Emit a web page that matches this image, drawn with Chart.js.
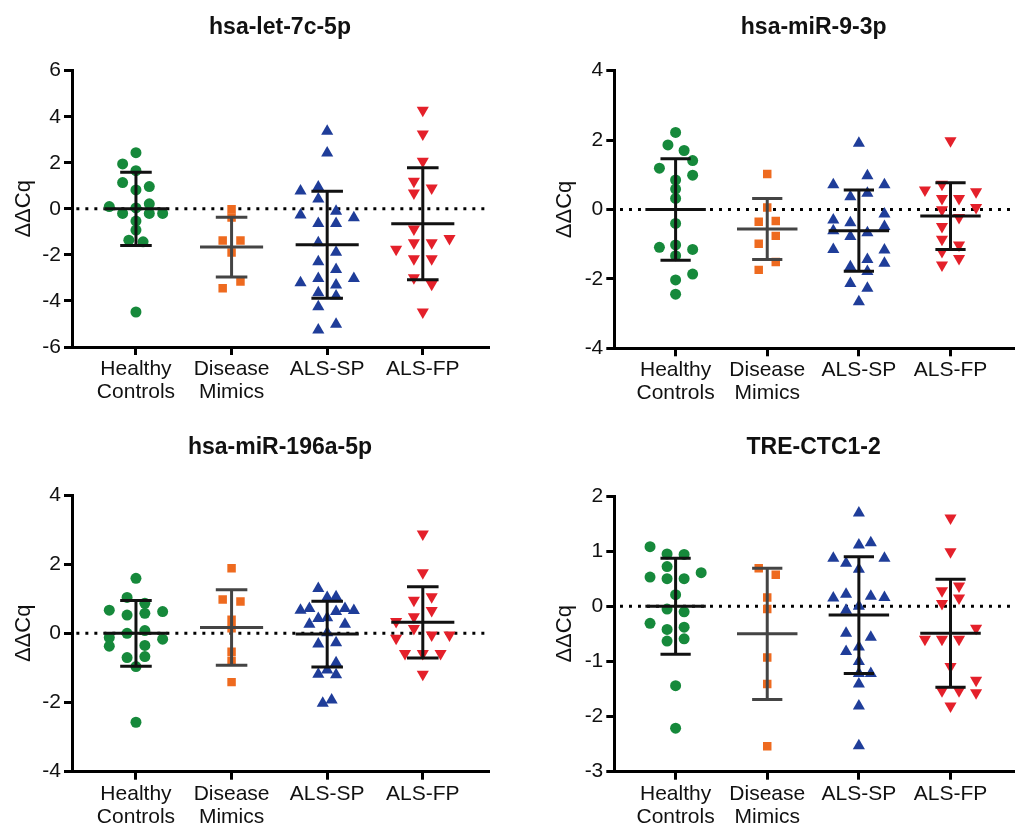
<!DOCTYPE html>
<html>
<head>
<meta charset="utf-8">
<script src="https://cdn.jsdelivr.net/npm/chart.js@4.4.1/dist/chart.umd.min.js"></script>
<style>
  body { margin: 0; background: #fff; width: 1020px; height: 827px; position: relative; overflow: hidden; }
  canvas { position: absolute; }
</style>
</head>
<body>
<canvas id="c1" width="510" height="420" style="left:0;top:0"></canvas>
<canvas id="c2" width="510" height="420" style="left:510px;top:0"></canvas>
<canvas id="c3" width="510" height="407" style="left:0;top:420px"></canvas>
<canvas id="c4" width="510" height="407" style="left:510px;top:420px"></canvas>
<script>
const groups = [['Healthy', 'Controls'], ['Disease', 'Mimics'], 'ALS-SP', 'ALS-FP'];

// hsa-let-7c-5p
const let7Healthy = [2.44, 1.95, 1.66, 1.14, 0.97, 0.82, 0.10, 0.22, 0.04, -0.20, -0.20, -0.20, -0.53, -0.92, -1.36, -1.43, -4.48];
const let7HealthySlot = [0, -1.5, 0, -1.5, 1.5, 0, -3, 1.5, 0, -1.5, 1.5, 3, 0, 0, -0.8, 0.8, 0];
const let7Mimics = [-0.02, -0.38, -1.37, -1.37, -1.90, -3.16, -3.45];
const let7MimicsSlot = [0, 0, -1, 1, 0, 1, -1];
const let7Sp = [3.37, 2.43, 0.77, 0.95, 0.43, -0.10, -0.27, -0.39, -0.64, -0.64, -1.47, -1.88, -2.30, -2.63, -3.21, -3.03, -3.02, -3.64, -3.31, -3.79, -4.25, -5.01, -5.26];
const let7SpSlot = [0, 0, -3, -1, -1, 1, -3, 3, -1, 1, -1, 1, -1, 1, -3, -1, 3, -1, 1, 1, -1, 1, -1];
const let7Fp = [4.28, 3.25, 2.07, 1.20, 0.91, 0.69, -0.87, -1.29, -1.76, -1.47, -1.47, -2.17, -2.17, -2.99, -3.28, -4.48];
const let7FpSlot = [0, 0, 0, -1, 1, -1, -1, 3, -3, -1, 1, -1, 1, -1, 1, 0];
const let7Means = [0.00, -1.66, -1.56, -0.65];
const let7Sds = [1.59, 1.30, 2.32, 2.43];

// hsa-miR-9-3p
const mir9Healthy = [2.22, 1.86, 1.70, 1.41, 1.19, 0.99, 0.85, 0.59, 0.32, -0.40, -1.09, -1.02, -1.15, -1.33, -1.86, -2.03, -2.44];
const mir9HealthySlot = [0, -0.9, 1, 2, -1.9, 2, 0, 0, 0, 0, -1.9, 0, 2, 0, 2, 0, 0];
const mir9Mimics = [1.02, 0.06, -0.35, -0.33, -0.76, -0.99, -1.51, -1.74];
const mir9MimicsSlot = [0, 0, -1, 1, 1, -1, 1, -1];
const mir9Sp = [1.91, 0.97, 0.71, 0.71, 0.37, 0.47, -0.30, -0.13, -0.38, -0.61, -0.49, -0.78, -0.67, -1.15, -1.17, -1.44, -1.55, -1.65, -1.79, -2.13, -2.27, -2.66];
const mir9SpSlot = [0, 1, -3, 3, -1, 1, -3, 3, -1, -3, 3, -1, 1, -3, 3, 1, 3, -1, 1, -1, 1, 0];
const mir9Fp = [1.98, 0.73, 0.56, 0.51, 0.32, 0.32, 0.06, -0.01, -0.23, -0.49, -0.86, -1.02, -1.21, -1.41, -1.60];
const mir9FpSlot = [0, -1, -3, 3, -1, 1, 3, -1, 1, -1, -1, 1, -1, 1, -1];
const mir9Means = [0.00, -0.56, -0.61, -0.19];
const mir9Sds = [1.46, 0.88, 1.17, 0.96];

// hsa-miR-196a-5p
const mir196Healthy = [1.59, 1.04, 0.87, 0.67, 0.63, 0.53, 0.58, 0.00, 0.08, -0.12, -0.17, -0.37, -0.35, -0.70, -0.67, -0.96, -2.57];
const mir196HealthySlot = [0, -1, 1, -3, 3, -1, 1, -1, 1, -3, 3, -3, 1, -1, 1, 0, 0];
const mir196Mimics = [1.88, 0.98, 0.92, 0.39, 0.15, -0.53, -0.79, -1.41];
const mir196MimicsSlot = [0, -1, 1, 0, 0, 0, 0, 0];
const mir196Sp = [1.30, 1.04, 1.06, 0.67, 0.72, 0.72, 0.66, 0.43, 0.63, 0.26, 0.26, 0.45, 0.02, -0.31, -0.27, -0.85, -1.18, -1.20, -1.06, -2.02, -1.93];
const mir196SpSlot = [-1, 0, 1, -3, -2, 2, 3, -1, 1, -2, 2, 0, 0, -1, 1, 1, -1, 1, 0, -0.5, 0.5];
const mir196Fp = [2.87, 1.75, 0.96, 1.06, 0.66, 0.48, 0.34, 0.14, -0.14, -0.05, -0.05, -0.58, -0.58, -0.58, -1.18];
const mir196FpSlot = [0, 0, -1, 1, 1, -1, -3, -1, -3, 1, 3, -2, 0, 2, 0];
const mir196Means = [0.00, 0.17, -0.02, 0.32];
const mir196Sds = [0.95, 1.09, 0.95, 1.03];

// TRE-CTC1-2
const treHealthy = [1.08, 0.95, 0.94, 0.72, 0.53, 0.50, 0.50, 0.61, 0.21, -0.05, -0.10, -0.31, -0.42, -0.38, -0.63, -0.59, -1.44, -2.21];
const treHealthySlot = [-3, -1, 1, -1, -3, -1, 1, 3, 0, -1, 1, -3, -1, 1, -1, 1, 0, 0];
const treMimics = [0.69, 0.57, 0.16, -0.05, -0.93, -1.41, -2.54];
const treMimicsSlot = [-1, 1, 0, 0, 0, 0, 0];
const treSp = [1.69, 1.11, 1.15, 0.87, 0.87, 0.78, 0.67, 0.15, 0.22, 0.18, 0.16, 0.00, -0.07, -0.49, -0.56, -0.82, -0.74, -1.00, -1.22, -1.22, -1.41, -1.81, -2.53];
const treSpSlot = [0, 0, 1.4, -3, 3, -1.5, 0, -3, -1.5, 1.4, 3, 0, -1.5, -1.5, 1.4, -1.5, 0, 0, 0, 1.4, 0, 0, 0];
const treFp = [1.60, 0.99, 0.28, 0.37, 0.15, 0.05, -0.40, -0.60, -0.60, -0.60, -1.09, -1.34, -1.53, -1.53, -1.57, -1.81];
const treFpSlot = [0, 0, -1, 1, 1, -1, 3, -3, -1, 1, 0, 3, -1, 1, 3, 0];
const treMeans = [0.00, -0.50, -0.16, -0.49];
const treSds = [0.87, 1.19, 1.06, 0.98];

const SLOT = 0.093;
const colors = ['#16893b', '#ee6a1f', '#1f3d99', '#e4202a'];
const barColors = ['#111', '#444', '#111', '#111'];
const shapes = [['circle', 5.5, 0], ['rect', 6, 0], ['triangle', 7, 0], ['triangle', 7, 180]];

Chart.defaults.font.family = "'Liberation Sans', Arial, sans-serif";

function errorBar(i, m, sd) {
    return [
        {x: i - 0.33, y: m}, {x: i + 0.33, y: m}, {x: i, y: null},
        {x: i, y: m - sd}, {x: i, y: m + sd}, {x: i, y: null},
        {x: i - 0.165, y: m + sd}, {x: i + 0.165, y: m + sd}, {x: i, y: null},
        {x: i - 0.165, y: m - sd}, {x: i + 0.165, y: m - sd}
    ];
}

function drawPanel(id, title, values, slots, means, sds, yMin, yMax, step, box) {
    const canvas = document.getElementById(id);
    const W = canvas.width, H = canvas.height;

    const datasets = [];
    // error bars on top
    means.forEach((m, i) => {
        datasets.push({
            data: errorBar(i, m, sds[i]),
            showLine: true,
            borderColor: barColors[i],
            borderWidth: 3,
            pointRadius: 0,
            spanGaps: false,
            order: 0
        });
    });
    values.forEach((vals, i) => {
        datasets.push({
            data: vals.map((v, k) => ({x: i + slots[i][k] * SLOT, y: v})),
            pointStyle: shapes[i][0],
            pointRadius: shapes[i][1],
            rotation: shapes[i][2],
            pointBackgroundColor: colors[i],
            pointBorderWidth: 0,
            order: 1
        });
    });
    // dotted zero line
    datasets.push({
        data: [{x: -1, y: 0}, {x: 4, y: 0}],
        showLine: true,
        borderColor: '#000',
        borderWidth: 3,
        borderDash: [3, 6],
        pointRadius: 0,
        order: 2
    });

    const axisGrid = {drawOnChartArea: false, color: '#000', lineWidth: 3, tickLength: 8};
    const axisBorder = {color: '#000', width: 3};

    new Chart(canvas.getContext('2d'), {
        type: 'scatter',
        data: {datasets},
        options: {
            responsive: false,
            animation: false,
            events: [],
            layout: {padding: {left: 0, right: W - box.r, top: 14, bottom: 0}},
            plugins: {
                legend: {display: false},
                tooltip: {enabled: false},
                title: {
                    display: true,
                    text: title,
                    fullSize: false,
                    color: '#111',
                    font: {size: 23, weight: 'bold'},
                    padding: {top: 0, bottom: box.t - 14 - 27.6}
                }
            },
            scales: {
                x: {
                    type: 'linear',
                    min: -0.669,
                    max: 3.682,
                    afterFit: s => { s.height = H - box.b; },
                    afterBuildTicks: s => { s.ticks = [0, 1, 2, 3].map(v => ({value: v})); },
                    ticks: {
                        callback: v => groups[v],
                        autoSkip: false,
                        maxRotation: 0,
                        color: '#111',
                        padding: 3,
                        font: {size: 21, lineHeight: 1.08}
                    },
                    grid: axisGrid,
                    border: axisBorder
                },
                y: {
                    min: yMin,
                    max: yMax,
                    afterFit: s => { s.width = box.l; },
                    ticks: {stepSize: step, color: '#111', padding: 3, font: {size: 21}},
                    title: {
                        display: true,
                        text: 'ΔΔCq',
                        color: '#111',
                        font: {size: 22},
                        padding: {top: box.yt - 13.2, bottom: 0}
                    },
                    grid: axisGrid,
                    border: axisBorder
                }
            }
        }
    });
}

drawPanel('c1', 'hsa-let-7c-5p',
    [let7Healthy, let7Mimics, let7Sp, let7Fp],
    [let7HealthySlot, let7MimicsSlot, let7SpSlot, let7FpSlot],
    let7Means, let7Sds, -6, 6, 2,
    {l: 72, r: 488, t: 70.7, b: 347, yt: 24});

drawPanel('c2', 'hsa-miR-9-3p',
    [mir9Healthy, mir9Mimics, mir9Sp, mir9Fp],
    [mir9HealthySlot, mir9MimicsSlot, mir9SpSlot, mir9FpSlot],
    mir9Means, mir9Sds, -4, 4, 2,
    {l: 104.3, r: 510, t: 70.7, b: 348.3, yt: 55});

drawPanel('c3', 'hsa-miR-196a-5p',
    [mir196Healthy, mir196Mimics, mir196Sp, mir196Fp],
    [mir196HealthySlot, mir196MimicsSlot, mir196SpSlot, mir196FpSlot],
    mir196Means, mir196Sds, -4, 4, 2,
    {l: 72, r: 488, t: 75, b: 351.7, yt: 24});

drawPanel('c4', 'TRE-CTC1-2',
    [treHealthy, treMimics, treSp, treFp],
    [treHealthySlot, treMimicsSlot, treSpSlot, treFpSlot],
    treMeans, treSds, -3, 2, 1,
    {l: 104.3, r: 510, t: 76, b: 351.7, yt: 55});
</script>
</body>
</html>
